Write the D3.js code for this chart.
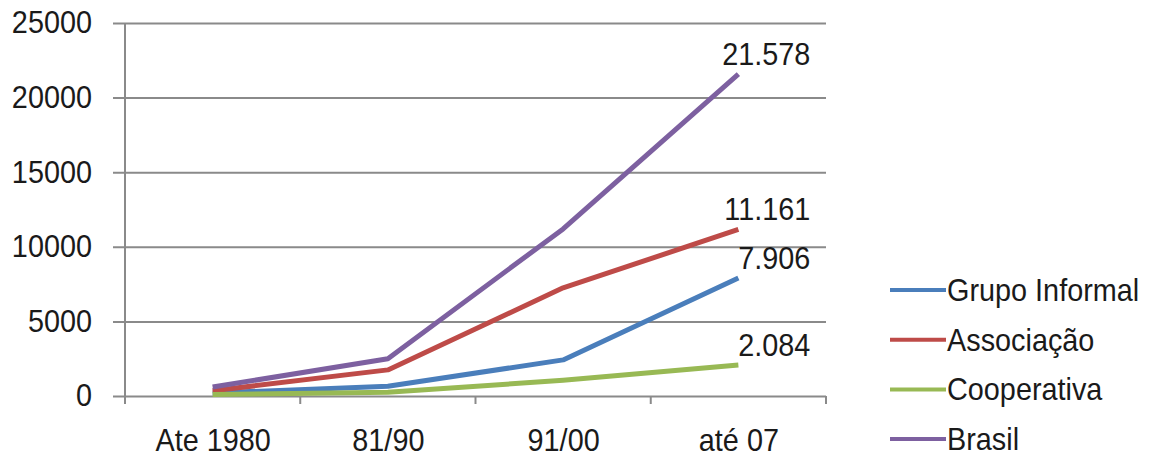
<!DOCTYPE html>
<html>
<head>
<meta charset="utf-8">
<script src="https://cdn.jsdelivr.net/npm/d3@7"></script>
<style>
  html, body { margin: 0; padding: 0; background: #fff; }
  svg { display: block; }
  text { font-family: "Liberation Sans", Arial, sans-serif; fill: #1a1a1a; }
</style>
</head>
<body>
<svg id="chart" width="1151" height="463"></svg>
<script>
// Periods on the horizontal axis
const categories = ["Ate 1980", "81/90", "91/00", "até 07"];

// Cumulative counts per type of organisation
const grupoInformal = [200, 650, 2420, 7906];
const associacao    = [350, 1750, 7250, 11161];
const cooperativa   = [100, 250, 1050, 2084];
const brasil        = [600, 2500, 11200, 21578];

const seriesNames  = ["Grupo Informal", "Associação", "Cooperativa", "Brasil"];
const seriesValues = [grupoInformal, associacao, cooperativa, brasil];
const seriesColors = ["#4a7ebb", "#be4b48", "#98b954", "#7d60a0"];

const yTicks = [0, 5000, 10000, 15000, 20000, 25000];

const plot = { left: 125, right: 826, top: 23, bottom: 396 };
const fontSize = 31;
const stretch = 0.93;   // slightly condensed lettering

const svg = d3.select("#chart");

const x = d3.scalePoint().domain(categories).range([plot.left, plot.right]).padding(0.5);
const band = d3.scaleBand().domain(categories).range([plot.left, plot.right]).paddingInner(0).paddingOuter(0);
const y = d3.scaleLinear().domain([0, 25000]).range([plot.bottom, plot.top]);

const br = d3.formatLocale({ decimal: ",", thousands: ".", grouping: [3], currency: ["R$", ""] });
const fmt = br.format(",");

// Horizontal gridlines with left tick marks and labels
const tickOut = 12;
const yAxis = svg.append("g")
  .attr("transform", `translate(${plot.left - tickOut},0)`)
  .call(d3.axisLeft(y).tickValues(yTicks).tickSizeInner(-(plot.right - plot.left + tickOut)).tickSizeOuter(0).tickPadding(21).tickFormat(d => String(d)));
yAxis.select(".domain").remove();
yAxis.selectAll(".tick line").attr("stroke", "#8a8a8a").attr("stroke-width", 2);
yAxis.selectAll(".tick text")
  .attr("font-size", fontSize)
  .attr("font-family", null)
  .attr("fill", "#1a1a1a")
  .attr("x", function () { return +d3.select(this).attr("x") / stretch; })
  .attr("transform", `scale(${stretch},1)`);

// Vertical axis line
svg.append("line")
  .attr("x1", plot.left).attr("x2", plot.left)
  .attr("y1", y(25000)).attr("y2", plot.bottom + 8)
  .attr("stroke", "#8a8a8a").attr("stroke-width", 2);

// Category boundary tick marks
const bounds = categories.map(c => band(c)).concat([plot.right]);
svg.append("g").selectAll("line").data(bounds).join("line")
  .attr("x1", d => d).attr("x2", d => d)
  .attr("y1", plot.bottom).attr("y2", plot.bottom + 8)
  .attr("stroke", "#8a8a8a").attr("stroke-width", 2);

// Category labels
const xAxis = svg.append("g")
  .attr("transform", `translate(0,${plot.bottom})`)
  .call(d3.axisBottom(x).tickSize(0).tickPadding(0));
xAxis.select(".domain").remove();
xAxis.selectAll(".tick text")
  .attr("font-size", fontSize)
  .attr("fill", "#1a1a1a")
  .attr("dy", null)
  .attr("y", 55)
  .attr("transform", `scale(${stretch},1)`);
xAxis.attr("font-family", null);

// Series lines
const line = d3.line().x((d, i) => x(categories[i])).y(d => y(d));
svg.append("g").selectAll("path").data(seriesValues).join("path")
  .attr("d", d => line(d))
  .attr("fill", "none")
  .attr("stroke", (d, i) => seriesColors[i])
  .attr("stroke-width", 5)
  .attr("stroke-linejoin", "round")
  .attr("stroke-linecap", "butt");

// Value labels at the last period
const last = categories.length - 1;
svg.append("g").selectAll("text").data(seriesValues).join("text")
  .attr("transform", d => `translate(${x(categories[last]) + 72},${y(d[last]) - 9}) scale(${stretch},1)`)
  .attr("text-anchor", "end")
  .attr("font-size", fontSize)
  .text(d => fmt(d[last]));

// Legend
const legend = svg.append("g").attr("transform", "translate(890,290)");
const rows = legend.selectAll("g").data(seriesNames).join("g")
  .attr("transform", (d, i) => `translate(0,${i * 49.7})`);
rows.append("line")
  .attr("x1", 0).attr("x2", 56).attr("y1", 0).attr("y2", 0)
  .attr("stroke", (d, i) => seriesColors[i]).attr("stroke-width", 4);
rows.append("text")
  .attr("transform", `translate(57,11) scale(${stretch},1)`)
  .attr("font-size", fontSize)
  .text(d => d);
</script>
</body>
</html>
